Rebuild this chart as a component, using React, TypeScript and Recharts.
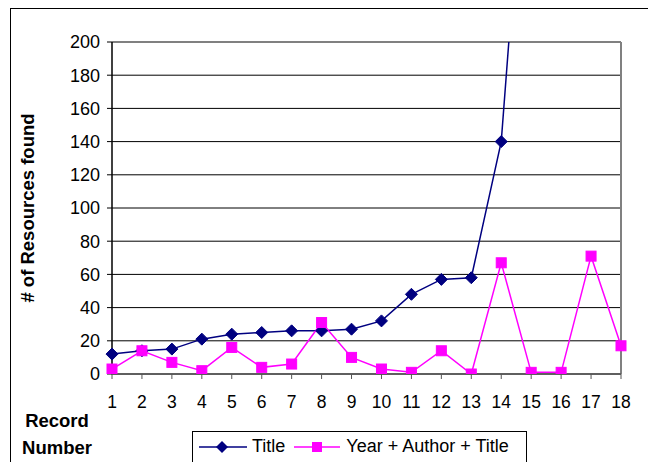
import React from "react";
import { LineChart, Line, XAxis, YAxis, CartesianGrid, ReferenceLine } from "recharts";

const records = [1, 2, 3, 4, 5, 6, 7, 8, 9, 10, 11, 12, 13, 14, 15, 16, 17, 18];
const titleOnly = [12, 14, 15, 21, 24, 25, 26, 26, 27, 32, 48, 57, 58, 140, 377, null, null, null];
const yearAuthorTitle = [3, 14, 7, 2, 16, 4, 6, 31, 10, 3, 1, 14, 0, 67, 1, 1, 71, 17];
const yTicks = [0, 20, 40, 60, 80, 100, 120, 140, 160, 180, 200];

const data = records.map((r, i) => ({ rec: r, title: titleOnly[i], yat: yearAuthorTitle[i] }));

const FONT = "'Liberation Sans', Arial, sans-serif";
const NAVY = "#000080";
const MAGENTA = "#FF00FF";

const Diamond = (props: any) => {
  const { cx, cy } = props;
  if (cx == null || cy == null) return null;
  return <polygon points={`${cx},${cy - 6} ${cx + 6},${cy} ${cx},${cy + 6} ${cx - 6},${cy}`} fill={NAVY} stroke={NAVY} />;
};

const Square = (props: any) => {
  const { cx, cy } = props;
  if (cx == null || cy == null) return null;
  return <rect x={cx - 5} y={cy - 5} width={10} height={10} fill={MAGENTA} stroke={MAGENTA} />;
};

function LegendBox() {
  return (
    <div
      style={{
        position: "absolute",
        left: 192,
        top: 431,
        border: "1px solid #000",
        borderBottom: "none",
        width: 335,
        height: 40,
        boxSizing: "border-box",
        display: "flex",
        alignItems: "center",
        fontFamily: FONT,
        fontSize: 18,
        color: "#000",
        paddingLeft: 6,
        paddingBottom: 10,
        background: "#fff",
      }}
    >
      <svg width={48} height={14} style={{ marginRight: 5 }}>
        <line x1={0} y1={7} x2={48} y2={7} stroke={NAVY} strokeWidth={1.5} />
        <polygon points="23,1 29,7 23,13 17,7" fill={NAVY} />
      </svg>
      <span style={{ marginRight: 9 }}>Title</span>
      <svg width={46} height={14} style={{ marginRight: 6 }}>
        <line x1={0} y1={7} x2={46} y2={7} stroke={MAGENTA} strokeWidth={1.5} />
        <rect x={18} y={2} width={10} height={10} fill={MAGENTA} />
      </svg>
      <span>Year + Author + Title</span>
    </div>
  );
}

export default function App() {
  return (
    <div style={{ position: "absolute", left: 0, top: 0, width: 648, height: 462, overflow: "hidden", background: "#fff" }}>
      <div style={{ position: "absolute", left: 10, top: 8, width: 700, height: 520, border: "1.5px solid #000" }} />
      <div style={{ position: "absolute", left: 0, top: 0 }}>
        <LineChart width={648} height={462} data={data} margin={{ top: 42, right: 27, bottom: 58, left: 0 }}>
          <CartesianGrid horizontal vertical={false} stroke="#000" strokeWidth={1} />
          <XAxis
            dataKey="rec"
            height={30}
            axisLine={{ stroke: "#555", strokeWidth: 1.5 }}
            tickLine={{ stroke: "#555" }}
            tickSize={5}
            tickMargin={17}
            tick={{ fontFamily: FONT, fontSize: 17.5, fill: "#000" }}
            interval={0}
          />
          <YAxis
            width={112}
            domain={[0, 200]}
            ticks={yTicks}
            allowDataOverflow
            axisLine={{ stroke: "#000", strokeWidth: 1.5 }}
            tickLine={{ stroke: "#000" }}
            tickSize={5}
            tickMargin={7}
            tick={{ fontFamily: FONT, fontSize: 18, fill: "#000" }}
            label={{
              value: "# of Resources found",
              angle: -90,
              position: "insideLeft",
              offset: 0,
              dx: 27,
              style: { fontFamily: FONT, fontSize: 18.5, fontWeight: "bold", fill: "#000", textAnchor: "middle" },
            }}
          />
          <ReferenceLine y={200} stroke="#808080" strokeWidth={2} />
          <ReferenceLine x={18} stroke="#808080" strokeWidth={2} />
          <Line
            dataKey="title"
            stroke={NAVY}
            strokeWidth={1.5}
            dot={<Diamond />}
            activeDot={false}
            isAnimationActive={false}
            connectNulls={false}
          />
          <Line
            dataKey="yat"
            stroke={MAGENTA}
            strokeWidth={1.5}
            dot={<Square />}
            activeDot={false}
            isAnimationActive={false}
          />
        </LineChart>
      </div>
      <LegendBox />
      <div
        style={{
          position: "absolute",
          left: 10,
          top: 407,
          width: 94,
          textAlign: "center",
          fontFamily: FONT,
          fontSize: 18.5,
          fontWeight: "bold",
          lineHeight: "27px",
          color: "#000",
        }}
      >
        Record
        <br />
        Number
      </div>
    </div>
  );
}
